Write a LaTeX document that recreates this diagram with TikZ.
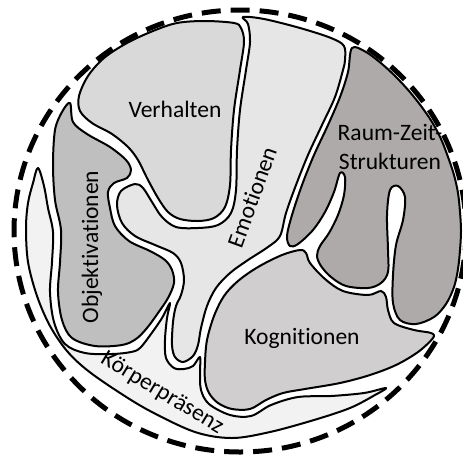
\documentclass[tikz,border=0pt]{standalone}
\usepackage{fontspec}
\setmainfont{Carlito}[Ligatures=NoCommon]
\definecolor{verhfill}{HTML}{D9D9D9}
\definecolor{emofill}{HTML}{E7E6E6}
\definecolor{objfill}{HTML}{BFBFBF}
\definecolor{rzfill}{HTML}{AEAAAA}
\definecolor{kogfill}{HTML}{D0CECE}
\definecolor{koerpfill}{HTML}{F2F2F2}

\begin{document}
\begin{tikzpicture}[x=0.2mm, y=-0.2mm, line join=round,
      area/.style={draw=black, line width=0.4mm, fill=#1},
      lbl/.style={font=\fontsize{13.4}{16}\selectfont, inner sep=0pt, align=center},
      rim/.style={line width=1mm, dash pattern=on 3.8mm off 2mm}]

    \def\tn{0.55}  % tension of the hand drawn outlines
    \useasboundingbox (0,0) rectangle (463,455);

    % Koerperpraesenz: crescent along the left and the bottom
    \draw[area=koerpfill] plot[smooth cycle, tension=\tn] coordinates {
      (38,168) (44,186) (48,208) (53,232) (52,262) (50,292) (54,322) (65,344)
      (85,353) (112,354) (131,352) (140,348) (151,334) (162,318) (170,303)
      (167,318) (165,340) (166,358) (174,368) (184,369) (193,366) (200,357)
      (200,372) (201,390) (209,404) (230,415) (251,416) (271,405) (298,397)
      (331,396) (364,393) (386,388) (375,395) (350,408) (314,420) (270,432)
      (232,438) (195,432) (150,411) (117,391) (87,370) (67,351) (50,326)
      (37,296) (28,262) (26,228) (28,203) (33,183)};

    % Objektivationen
    \draw[area=objfill] plot[smooth cycle, tension=\tn] coordinates {
      (70,103) (73,122) (87,134) (110,147) (126,160) (131,170) (127,178)
      (114,183) (108,192) (110,208) (115,226) (129,241) (150,251) (165,260)
      (172,270) (174,283) (168,298) (158,313) (147,328) (136,339) (122,345)
      (95,346) (72,338) (62,320) (58,292) (60,262) (61,230) (55,200) (53,165)
      (55,130) (62,112)};

    % Verhalten
    \draw[area=verhfill] plot[smooth cycle, tension=\tn] coordinates {
      (234,23) (205,21) (177,23) (153,31) (127,43) (104,58) (88,76) (79,96)
      (80,111) (92,123) (112,134) (128,147) (138,160) (147,178) (158,198)
      (168,212) (180,219) (198,221) (214,218) (225,207) (230,185) (231,150)
      (234,110) (240,70) (244,42) (241,28)};

    % Emotionen, with its arm to the left
    \draw[area=emofill] plot[smooth cycle, tension=\tn] coordinates {
      (243,17) (264,19) (300,28) (331,38) (344,46) (345,60) (343,70) (335,97)
      (322,125) (308,155) (296,185) (286,213) (280,236) (268,247) (248,260)
      (230,273) (216,288) (207,306) (201,328) (198,345) (193,356) (183,362)
      (175,357) (172,345) (173,322) (176,306) (181,295) (184,280) (181,263)
      (173,253) (155,245) (135,236) (122,223) (117,205) (121,191) (135,184)
      (143,188) (152,202) (162,217) (176,227) (198,228) (218,225) (231,213)
      (236,190) (237,150) (240,110) (246,70) (250,42) (248,24)};

    % Raum-Zeit-Strukturen, two slits cut from below
    \draw[area=rzfill] plot[smooth cycle, tension=\tn] coordinates {
      (352,48) (366,52) (382,64) (396,77) (409,91) (421,106) (432,122)
      (441,139) (448,157) (454,175) (458,193) (460,212) (461,231) (460,250)
      (458,269) (454,287) (446,304) (434,317) (416,324) (400,320) (393,303)
      (393,275) (396,245) (403,220) (405,197) (398,186) (390,190) (387,215)
      (388,250) (388,272) (381,283) (368,288) (346,286) (331,277) (321,266)
      (317,256) (320,246) (329,233) (338,215) (344,195) (345,177) (340,173)
      (334,192) (325,212) (313,230) (298,244) (290,246) (287,236) (292,215)
      (302,185) (314,155) (328,125) (340,97) (348,72)};

    % Kognitionen
    \draw[area=kogfill] plot[smooth cycle, tension=\tn] coordinates {
      (300,250) (306,253) (310,263) (325,279) (343,291) (368,295) (381,291)
      (386,297) (388,310) (394,323) (414,330) (431,333) (433,338) (418,352)
      (396,365) (370,375) (340,383) (305,389) (283,393) (266,400) (250,409)
      (232,409) (218,403) (209,393) (205,380) (205,362) (207,340) (214,316)
      (224,296) (238,281) (258,267) (282,255)};

    % dashed border
    \draw[rim] (240,231) ellipse [x radius=226, y radius=221];

    % Labels
    \node[lbl] (verh) at (175,109) {Verhalten};
    \node[lbl, rotate=70] (emo) at (252,197) {Emotionen};
    \node[lbl, rotate=90] (obj) at (92,247) {Objektivationen};
    \node[lbl] (rz) at (390,147) {Raum-Zeit-\\Strukturen};
    \node[lbl] (kog) at (302,338) {Kognitionen};
    \node[lbl, rotate=-31] (koerp) at (162,393) {Körperpräsenz};

\end{tikzpicture}
\end{document}
